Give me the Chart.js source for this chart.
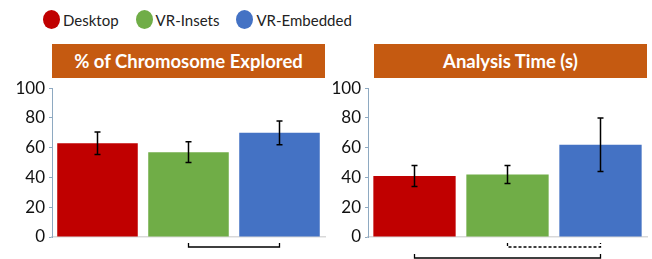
<!DOCTYPE html>
<html>
<head>
<meta charset="utf-8">
<script src="https://cdn.jsdelivr.net/npm/chart.js@4/dist/chart.umd.min.js"></script>
<style>
  body { margin: 0; width: 652px; height: 259px; background: #fff; position: relative; overflow: hidden; font-family: Lato, "Open Sans", sans-serif; }
  .legend { position: absolute; top: 10px; left: 43px; display: flex; align-items: center; font-size: 15px; color: #222; }
  .legend span.dot { display: inline-block; width: 17px; height: 19px; border-radius: 50%; margin-right: 3px; }
  .legend .item { display: flex; align-items: center; margin-right: 17px; }
  .title { position: absolute; top: 44px; height: 34px; background: #C55A11; color: #fff; font-weight: bold; font-size: 18.5px; display: flex; align-items: center; justify-content: center; }
  canvas { position: absolute; }
</style>
</head>
<body>
<div class="legend">
  <div class="item"><span class="dot" style="background:#C00000"></span>Desktop</div>
  <div class="item"><span class="dot" style="background:#70AD47"></span>VR-Insets</div>
  <div class="item"><span class="dot" style="background:#4472C4"></span>VR-Embedded</div>
</div>
<div class="title" style="left:52px;width:273px">% of Chromosome Explored</div>
<div class="title" style="left:374px;width:273px">Analysis Time (s)</div>
<div style="position:absolute;left:0;top:74px;width:330px;height:185px"><canvas id="c1"></canvas></div>
<div style="position:absolute;left:330px;top:74px;width:322px;height:185px"><canvas id="c2"></canvas></div>
<script>
const conditions = ['Desktop', 'VR-Insets', 'VR-Embedded'];
const colors = ['#C00000', '#70AD47', '#4472C4'];

const exploredMean = [63, 57, 70];
const exploredErr = [7.5, 7, 8];

const timeMean = [41, 42, 62];
const timeErr = [7, 6, 18];

const yTicks = [0, 20, 40, 60, 80, 100];

// significance brackets: [from, to, dashed, row]
const exploredBrackets = [[1, 2, false, 0]];
const timeBrackets = [[1, 2, true, 0], [0, 2, false, 1]];

const extrasPlugin = {
  id: 'extras',
  afterDatasetsDraw(chart, args, opts) {
    const ctx = chart.ctx;
    const x = chart.scales.x, y = chart.scales.y;
    ctx.save();
    ctx.strokeStyle = '#000';
    ctx.lineWidth = 1.5;
    opts.err.forEach((e, i) => {
      const m = opts.mean[i];
      const px = x.getPixelForValue(i);
      const t = y.getPixelForValue(m + e), b = y.getPixelForValue(m - e);
      ctx.beginPath();
      ctx.moveTo(px, t); ctx.lineTo(px, b);
      ctx.moveTo(px - 3, t); ctx.lineTo(px + 3, t);
      ctx.moveTo(px - 3, b); ctx.lineTo(px + 3, b);
      ctx.stroke();
    });
    ctx.lineWidth = 1.3;
    opts.brackets.forEach(br => {
      const x0 = x.getPixelForValue(br[0]), x1 = x.getPixelForValue(br[1]);
      const base = chart.chartArea.bottom + 10 + br[3] * 11;
      ctx.setLineDash(br[2] ? [3, 2] : []);
      ctx.beginPath();
      ctx.moveTo(x0, base - 4); ctx.lineTo(x0, base); ctx.lineTo(x1, base); ctx.lineTo(x1, base - 4);
      ctx.stroke();
    });
    ctx.restore();
  }
};

function makeChart(id, mean, err, brackets, yWidth) {
  return new Chart(document.getElementById(id), {
    type: 'bar',
    data: {
      labels: conditions,
      datasets: [{
        data: mean,
        backgroundColor: colors,
        barPercentage: 0.885,
        categoryPercentage: 1
      }]
    },
    options: {
      responsive: true,
      maintainAspectRatio: false,
      animation: false,
      layout: { padding: { top: 2, bottom: 22, right: 5 } },
      plugins: {
        legend: { display: false },
        tooltip: { enabled: false },
        extras: { mean: mean, err: err, brackets: brackets }
      },
      scales: {
        x: {
          ticks: { display: false },
          grid: { display: false, drawTicks: false },
          border: { color: '#d9d9d9', width: 1.5 },
          afterFit: s => { s.height = 0; }
        },
        y: {
          min: 0, max: 100,
          afterFit: s => { s.width = yWidth; },
          afterBuildTicks: s => { s.ticks = []; for (let v = 0; v <= 100; v += 10) s.ticks.push({ value: v }); },
          ticks: {
            padding: 4,
            color: '#111',
            font: { family: 'Lato', size: 17 },
            callback: v => yTicks.includes(v) ? String(v) : ''
          },
          grid: { drawOnChartArea: false, tickLength: 3, color: '#8EA9C1' },
          border: { color: '#8EA9C1', width: 1 }
        }
      }
    },
    plugins: [extrasPlugin]
  });
}

makeChart('c1', exploredMean, exploredErr, exploredBrackets, 52);
makeChart('c2', timeMean, timeErr, timeBrackets, 38);
</script>
</body>
</html>
